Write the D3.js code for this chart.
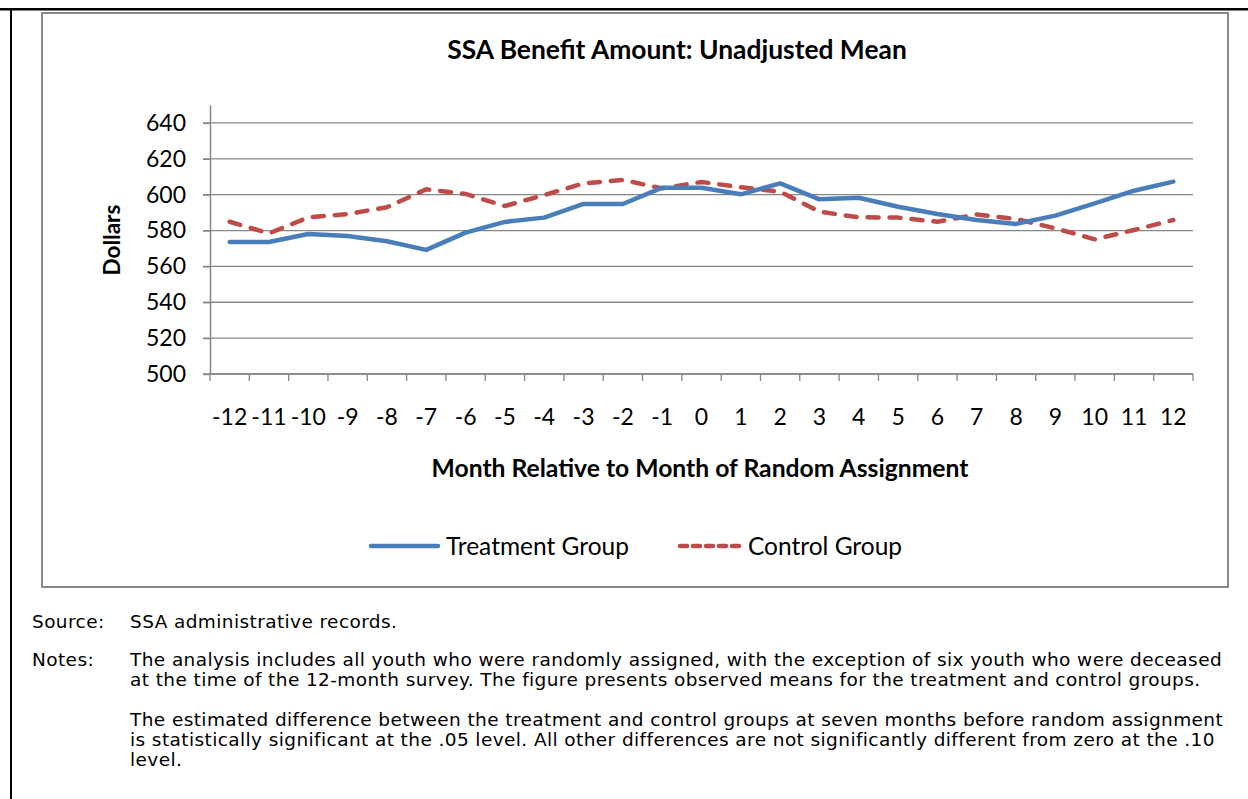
<!DOCTYPE html>
<html>
<head>
<meta charset="utf-8">
<script src="https://cdn.jsdelivr.net/npm/d3@7"></script>
<style>
  body { margin: 0; background: #fff; }
  text { font-family: Lato, "Open Sans", sans-serif; fill: #000; }
  .note { font-family: "DejaVu Sans", Verdana, sans-serif; font-size: 18.5px; letter-spacing: 0.4px; }
</style>
</head>
<body>
<svg id="chart" width="1248" height="799"></svg>
<script>
// months relative to random assignment
var months = ["-12", "-11", "-10", "-9", "-8", "-7", "-6", "-5", "-4", "-3", "-2", "-1", "0",
              "1", "2", "3", "4", "5", "6", "7", "8", "9", "10", "11", "12"];

// mean SSA benefit amount, dollars
var treatment = [573.6, 573.6, 578.1, 577.0, 574.0, 569.2, 578.8, 584.8, 587.2, 594.8, 594.8, 603.9, 603.9,
                 600.2, 606.3, 597.4, 598.3, 593.3, 589.2, 585.9, 583.7, 588.3, 595.2, 602.2, 607.3];
var control = [584.9, 578.4, 587.3, 589.2, 593.0, 603.0, 600.4, 593.7, 599.8, 606.3, 608.2, 603.5, 607.1,
               604.1, 601.7, 590.5, 587.4, 587.2, 584.9, 589.0, 586.4, 581.2, 575.1, 580.3, 585.9];

var yTicks = [500, 520, 540, 560, 580, 600, 620, 640];

var seriesNames = ["Treatment Group", "Control Group"];
var sourceText = "SSA administrative records.";
var notesText = [
  ["The analysis includes all youth who were randomly assigned, with the exception of six youth who were deceased",
   "at the time of the 12-month survey. The figure presents observed means for the treatment and control groups."],
  ["The estimated difference between the treatment and control groups at seven months before random assignment",
   "is statistically significant at the .05 level. All other differences are not significantly different from zero at the .10",
   "level."]
];

var blue = "#4a7ebb", red = "#be4b48", gridGrey = "#878787";

var svg = d3.select("#chart");

// page borders
svg.append("rect").attr("x", 0).attr("y", 8).attr("width", 1248).attr("height", 2.5).attr("fill", "#000");
svg.append("rect").attr("x", 10).attr("y", 8).attr("width", 2).attr("height", 791).attr("fill", "#000");

// chart box
svg.append("rect").attr("x", 42).attr("y", 13).attr("width", 1186).attr("height", 574)
  .attr("fill", "#fff").attr("stroke", "#898989").attr("stroke-width", 2);

var plotLeft = 210, plotRight = 1193, plotTop = 105, plotBottom = 374;

var x = d3.scaleBand().domain(months).range([plotLeft, plotRight]).padding(0);
var y = d3.scaleLinear().domain([500, 650]).range([plotBottom, plotTop]);
var cx = function (d) { return x(d) + x.bandwidth() / 2; };

// gridlines
svg.append("g").selectAll("line").data(yTicks).join("line")
  .attr("x1", plotLeft - 7).attr("x2", plotRight)
  .attr("y1", function (d) { return y(d); }).attr("y2", function (d) { return y(d); })
  .attr("stroke", gridGrey).attr("stroke-width", 1.3);

// y axis
var yAxis = svg.append("g").attr("transform", "translate(" + plotLeft + ",0)")
  .call(d3.axisLeft(y).tickValues(yTicks).tickSize(7).tickSizeOuter(0).tickPadding(17));
yAxis.select(".domain").attr("stroke", gridGrey).attr("stroke-width", 1.5);
yAxis.selectAll(".tick line").attr("stroke", gridGrey).attr("stroke-width", 1.3);
yAxis.selectAll(".tick text").style("font-size", "23px").style("font-family", "Lato").attr("fill", "#000");

// x axis: ticks on category boundaries
var xg = svg.append("g").attr("transform", "translate(0," + plotBottom + ")");
xg.append("line").attr("x1", plotLeft).attr("x2", plotRight).attr("stroke", gridGrey).attr("stroke-width", 1.5);
xg.selectAll(".xtick").data(months.concat(["end"])).join("line").attr("class", "xtick")
  .attr("x1", function (d, i) { return i < months.length ? x(d) : plotRight; })
  .attr("x2", function (d, i) { return i < months.length ? x(d) : plotRight; })
  .attr("y1", 0).attr("y2", 7).attr("stroke", gridGrey).attr("stroke-width", 1.3);
xg.selectAll(".xlab").data(months).join("text").attr("class", "xlab")
  .attr("x", cx).attr("y", 51).attr("text-anchor", "middle")
  .style("font-size", "23px").text(function (d) { return d; });

// lines
var line = d3.line().x(function (d, i) { return cx(months[i]); }).y(function (d) { return y(d); });
svg.append("path").datum(control).attr("d", line).attr("fill", "none")
  .attr("stroke", red).attr("stroke-width", 4.5).attr("stroke-linecap", "round").attr("stroke-linejoin", "round")
  .attr("stroke-dasharray", "11,11");
svg.append("path").datum(treatment).attr("d", line).attr("fill", "none")
  .attr("stroke", blue).attr("stroke-width", 4.5).attr("stroke-linecap", "round").attr("stroke-linejoin", "round");

// titles
svg.append("text").attr("x", 677).attr("y", 59).attr("text-anchor", "middle")
  .style("font-size", "26.4px").style("font-weight", "bold").text("SSA Benefit Amount: Unadjusted Mean");
svg.append("text").attr("x", 700).attr("y", 477).attr("text-anchor", "middle")
  .style("font-size", "24.7px").style("font-weight", "bold").text("Month Relative to Month of Random Assignment");
svg.append("text").attr("transform", "translate(120,240) rotate(-90)").attr("text-anchor", "middle")
  .style("font-size", "22.5px").style("font-weight", "bold").text("Dollars");

// legend
var lg = svg.append("g").attr("transform", "translate(0,546)");
lg.append("line").attr("x1", 371).attr("x2", 438).attr("stroke", blue).attr("stroke-width", 4.5).attr("stroke-linecap", "round");
lg.append("text").attr("x", 446).attr("y", 8.5).style("font-size", "24.5px").text(seriesNames[0]);
lg.append("line").attr("x1", 680).attr("x2", 742).attr("stroke", red).attr("stroke-width", 4.5)
  .attr("stroke-linecap", "round").attr("stroke-dasharray", "7,6");
lg.append("text").attr("x", 748).attr("y", 8.5).style("font-size", "24.5px").text(seriesNames[1]);

// source and notes
svg.append("text").attr("class", "note").attr("x", 32).attr("y", 628).text("Source:");
svg.append("text").attr("class", "note").attr("x", 130).attr("y", 628).text(sourceText);
svg.append("text").attr("class", "note").attr("x", 32).attr("y", 666).text("Notes:");
var ny = [[666, 686], [726, 746, 766]];
notesText.forEach(function (para, p) {
  para.forEach(function (t, k) {
    svg.append("text").attr("class", "note").attr("x", 130).attr("y", ny[p][k]).text(t);
  });
});
</script>
</body>
</html>
